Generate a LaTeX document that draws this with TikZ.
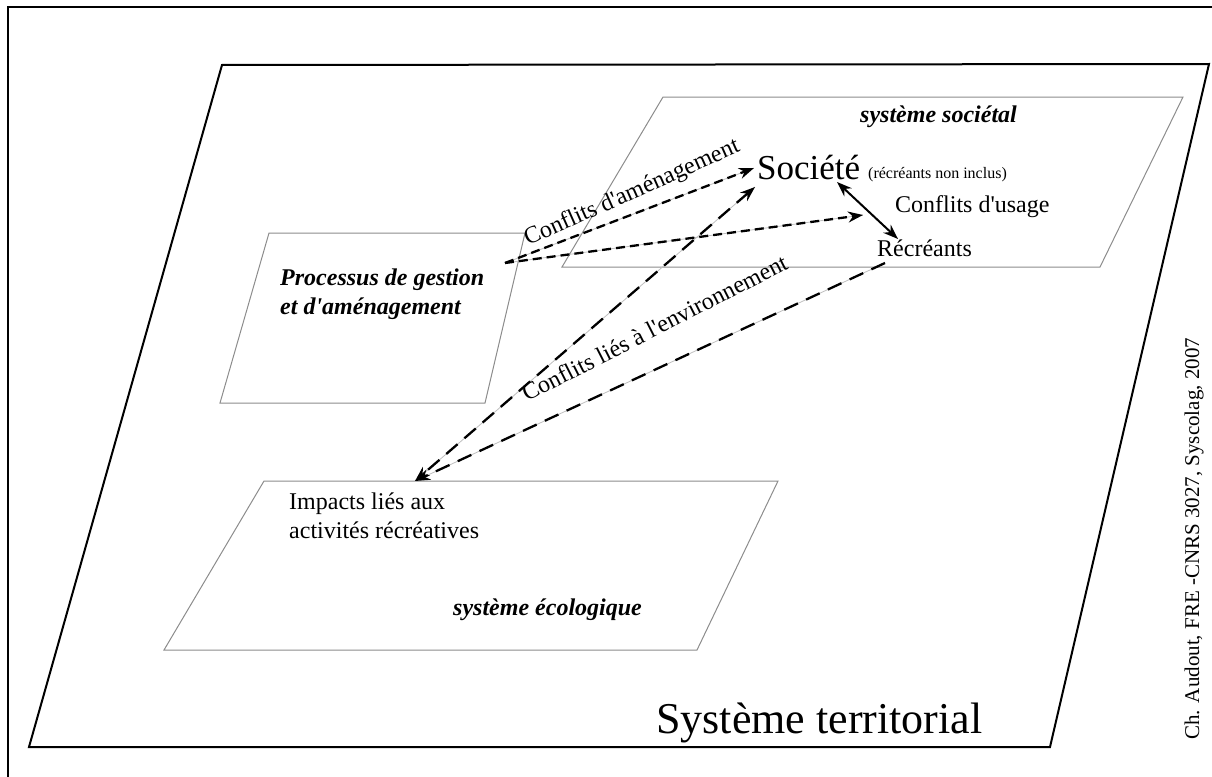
\documentclass[tikz,border=0pt]{standalone}
\usepackage{fontspec}
\setmainfont{Liberation Serif}
\usetikzlibrary{arrows.meta}
\newcommand{\apos}{\textquotesingle}
\begin{document}
\begin{tikzpicture}[x=1pt,y=-1pt,
  thinbox/.style={draw=black!45, line width=1pt},
  bigbox/.style={draw=black, line width=2pt, line join=miter},
  body/.style={font=\fontsize{24}{29}\selectfont, inner sep=0pt},
  bi/.style={font=\fontsize{24}{29}\selectfont\bfseries\itshape, inner sep=0pt},
  guide/.style={draw=black!25, line width=0.8pt},
  shortdash/.style={draw=black, line width=2.3pt, dash pattern=on 9pt off 5pt},
  longdash/.style={draw=black, line width=2.3pt, dash pattern=on 15pt off 9pt},
  tipend/.style={-{Stealth[length=15pt,width=11pt]}},
  tipboth/.style={{Stealth[length=15pt,width=11pt]}-{Stealth[length=15pt,width=11pt]}},
]
\useasboundingbox (0,0) rectangle (1212,776);
% outer frame
\draw[line width=2.5pt] (8,780) -- (8,7) -- (1216,7);
% systeme territorial
\draw[bigbox] (222,65) -- (1209,64) -- (1050,747) -- (29,747) -- cycle;
% inner systems
\draw[thinbox] (663,97) -- (1183,97) -- (1100,267) -- (562,267) -- cycle;
\draw[thinbox] (269,233) -- (525,233) -- (485,403) -- (220,403) -- cycle;
\draw[thinbox] (264,481) -- (778,481) -- (697,650) -- (164,650) -- cycle;

% texts
\node[anchor=base west, font=\fontsize{35}{42}\selectfont, inner sep=0pt] (soc) at (757,179) {Société};
\node[anchor=base west, font=\fontsize{16}{19}\selectfont, inner sep=0pt] (nonincl) at (868,178) {(récréants non inclus)};
\node[bi, anchor=base west] (ssoc) at (860,122) {système sociétal};
\node[body, anchor=base west] (cu) at (895,212) {Conflits d\apos usage};
\node[body, anchor=base west] (rec) at (877,256) {Récréants};
\node[bi, anchor=base west] (proc1) at (280,285) {Processus de gestion};
\node[bi, anchor=base west] (proc2) at (280,314) {et d\apos aménagement};
\node[body, anchor=base west] (imp1) at (289,509) {Impacts liés aux};
\node[body, anchor=base west] (imp2) at (289,538) {activités récréatives};
\node[bi, anchor=base west] (seco) at (453,615) {système écologique};
\node[anchor=base west, font=\fontsize{44}{52}\selectfont, inner sep=0pt] (sterr) at (656,733) {Système territorial};
\node[anchor=base west, rotate=90, font=\fontsize{21}{25}\selectfont, inner sep=0pt] (credit) at (1199,740) {Ch. Audout, FRE -CNRS 3027, Syscolag, 2007};
\node[body, anchor=base west, rotate=24] (cam) at (528,246) {Conflits d\apos aménagement};
\node[body, anchor=base west, rotate=27] (cenv) at (527,402) {Conflits liés à l\apos environnement};

% connector end points
\coordinate (pstart) at (505,263);
\coordinate (socA) at (754,168);
\coordinate (recA) at (863,215);
\coordinate (socB) at (755,187);
\coordinate (impA) at (415,481);
\coordinate (recB) at (885,263);
\coordinate (socC) at (837,182);
\coordinate (recC) at (898,239);

% connectors
\draw[guide] (pstart) -- (socA);
\draw[guide] (pstart) -- (recA);
\draw[guide] (socB) -- (impA);
\draw[guide] (recB) -- (impA);
\draw[shortdash, tipend] (pstart) -- (socA);
\draw[shortdash, tipend] (pstart) -- (recA);
\draw[longdash, tipboth] (socB) -- (impA);
\draw[longdash, tipend] (recB) -- (impA);
\draw[line width=2pt, tipboth] (socC) -- (recC);
\end{tikzpicture}
\end{document}
